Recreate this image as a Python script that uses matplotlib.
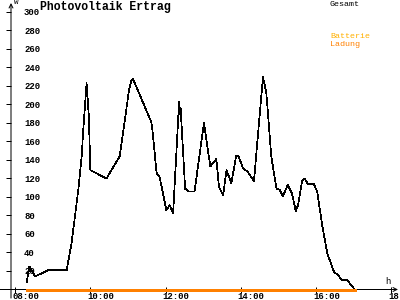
import matplotlib
matplotlib.use("Agg")
import matplotlib.pyplot as plt
import matplotlib.transforms as mtrans

# Zeiten (Stunden, dezimal) und Gesamtleistung in W
zeit = [8.31, 8.38, 8.53, 8.88, 9.37, 9.50, 9.59, 9.68, 9.77, 9.81, 9.90, 9.96,
        10.00, 10.43, 10.78, 11.03, 11.09, 11.13, 11.62, 11.66, 11.76, 11.84,
        12.02, 12.11, 12.20, 12.36, 12.38, 12.40, 12.52, 12.60, 12.77, 13.02,
        13.19, 13.35, 13.42, 13.53, 13.62, 13.75, 13.88, 13.94, 14.06, 14.19,
        14.35, 14.59, 14.68, 14.81, 14.95, 15.03, 15.12, 15.25, 15.36, 15.46,
        15.52, 15.63, 15.70, 15.78, 15.94, 16.03, 16.17, 16.30, 16.48, 16.57,
        16.70, 16.83, 17.03]
gesamt = [8, 25, 14, 21, 21, 50, 79, 108, 144, 172, 223, 187,
          129, 120, 144, 216, 226, 228, 181, 169, 126, 122,
          86, 91, 82, 203, 190, 196, 109, 106, 106, 180,
          133, 141, 111, 102, 129, 115, 145, 144, 131, 127,
          117, 230, 212, 144, 109, 108, 101, 113, 104, 85,
          91, 117, 120, 114, 114, 106, 68, 39, 19, 16,
          10, 10, 0]
ladung = [0] * len(zeit)

y_ticks = list(range(20, 301, 20))
x_ticks = [8, 10, 12, 14, 16, 18]
x_labels = ["08:00", "10:00", "12:00", "14:00", "16:00", "18:"]

mono = "Liberation Mono"

fig = plt.figure(figsize=(4, 3), dpi=100)
ax = fig.add_axes([11 / 400, 10.5 / 300, 387 / 400, 286.5 / 300])
ax.set_xlim(7.89, 18.18)
ax.set_ylim(0, 309.7)

ax.plot(zeit, gesamt, color="black", lw=0.5, antialiased=False, zorder=3)
ax.plot(zeit, ladung, color="#FF8000", lw=0.9, antialiased=False, zorder=4, clip_on=False)

for s in ax.spines.values():
    s.set_visible(False)

# Achsen mit Pfeilen
pfeil = dict(arrowstyle="->", lw=0.72, color="black", shrinkA=0, shrinkB=0, mutation_scale=7)
ax.annotate("", xy=(1.0, 0), xytext=(-0.029, 0), xycoords="axes fraction",
            arrowprops=pfeil, zorder=2)
ax.annotate("", xy=(0, 1.0), xytext=(0, -0.03), xycoords="axes fraction",
            arrowprops=pfeil, zorder=2)

ax.set_yticks(y_ticks)
ax.set_yticklabels([str(v) for v in y_ticks], fontsize=6.5, family=mono, ha="left",
                   fontweight="bold")
ax.tick_params(axis="y", direction="out", length=3.6, width=0.72, pad=-13)

ax.set_xticks(x_ticks)
ax.set_xticklabels(x_labels, fontsize=6.5, family=mono, ha="left", fontweight="bold")
ax.tick_params(axis="x", direction="inout", length=4.3, width=0.72, pad=-0.5)
off = mtrans.ScaledTranslation(-3 / 100, 0, fig.dpi_scale_trans)
for lbl in ax.get_xticklabels():
    lbl.set_transform(lbl.get_transform() + off)

fig.text(40 / 400, 1 - 7 / 300, "Photovoltaik Ertrag", fontsize=8.3, fontweight="bold",
         family=mono, va="center", ha="left")
fig.text(14 / 400, 1 - 3 / 300, "W", fontsize=5.5, family=mono, va="center", ha="left")
fig.text(385 / 400, 1 - 281 / 300, "h", fontsize=6.5, family=mono, va="center", ha="left")

fig.text(330 / 400, 1 - 4 / 300, "Gesamt", fontsize=6, family=mono, va="center",
         ha="left", color="black")
fig.text(330 / 400, 1 - 36 / 300, "Batterie", fontsize=6, family=mono, va="center",
         ha="left", color="#FFB000")
fig.text(330 / 400, 1 - 44 / 300, "Ladung", fontsize=6, family=mono, va="center",
         ha="left", color="#FF8000")

fig.savefig("out.png", dpi=100)
